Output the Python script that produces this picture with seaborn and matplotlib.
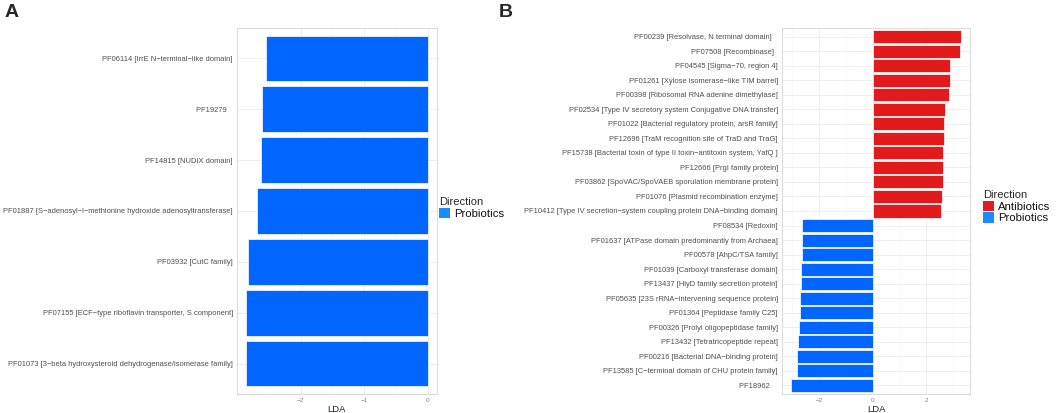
import matplotlib
matplotlib.use("Agg")
import matplotlib.pyplot as plt
from matplotlib.patches import Patch
import seaborn as sns
import pandas as pd

# panel A: probiotics only
a_names = [
    "PF06114 [IrrE N−terminal−like domain]",
    "PF19279   ",
    "PF14815 [NUDIX domain]",
    "PF01887 [S−adenosyl−l−methionine hydroxide adenosyltransferase]",
    "PF03932 [CutC family]",
    "PF07155 [ECF−type riboflavin transporter, S component]",
    "PF01073 [3−beta hydroxysteroid dehydrogenase/isomerase family]",
]
a_lda = [-2.54, -2.60, -2.62, -2.68, -2.82, -2.86, -2.86]
a_dir = ["Probiotics"] * 7

# panel B: antibiotics vs probiotics
b_names = [
    "PF00239 [Resolvase, N terminal domain]   ",
    "PF07508 [Recombinase]  ",
    "PF04545 [Sigma−70, region 4]",
    "PF01261 [Xylose isomerase−like TIM barrel]",
    "PF00398 [Ribosomal RNA adenine dimethylase]",
    "PF02534 [Type IV secretory system Conjugative DNA transfer]",
    "PF01022 [Bacterial regulatory protein, arsR family]",
    "PF12696 [TraM recognition site of TraD and TraG]",
    "PF15738 [Bacterial toxin of type II toxin−antitoxin system, YafQ ]",
    "PF12666 [PrgI family protein]",
    "PF03862 [SpoVAC/SpoVAEB sporulation membrane protein]",
    "PF01076 [Plasmid recombination enzyme]",
    "PF10412 [Type IV secretion−system coupling protein DNA−binding domain]",
    "PF08534 [Redoxin]",
    "PF01637 [ATPase domain predominantly from Archaea]",
    "PF00578 [AhpC/TSA family]",
    "PF01039 [Carboxyl transferase domain]",
    "PF13437 [HlyD family secretion protein]",
    "PF05635 [23S rRNA−intervening sequence protein]",
    "PF01364 [Peptidase family C25]",
    "PF00326 [Prolyl oligopeptidase family]",
    "PF13432 [Tetratricopeptide repeat]",
    "PF00216 [Bacterial DNA−binding protein]",
    "PF13585 [C−terminal domain of CHU protein family]",
    "PF18962    ",
]
b_lda = [3.30, 3.24, 2.87, 2.87, 2.85, 2.68, 2.67, 2.64, 2.63, 2.60, 2.60, 2.57, 2.53,
         -2.62, -2.63, -2.64, -2.65, -2.67, -2.69, -2.69, -2.75, -2.77, -2.80, -2.82, -3.05]
b_dir = ["Antibiotics"] * 13 + ["Probiotics"] * 12

bar_colors = {"Antibiotics": "#E31A1C", "Probiotics": "#0066FF"}
key_colors = {"Antibiotics": "#E41A1C", "Probiotics": "#1A8CFF"}

sns.set_style("white")
plt.rcParams["font.family"] = ["Liberation Sans", "DejaVu Sans"]

W, H = 1059, 413
fig = plt.figure(figsize=(W / 100, H / 100), dpi=100)


def px_axes(left, right, top, bottom):
    return fig.add_axes([left / W, 1 - bottom / H, (right - left) / W, (bottom - top) / H])


def draw_panel(ax, names, lda, direction, xlim, major, minor):
    df = pd.DataFrame({"name": names, "LDA": lda, "Direction": direction})
    sns.barplot(data=df, x="LDA", y="name", hue="Direction", order=names,
                palette=bar_colors, dodge=False, width=0.9, legend=False,
                saturation=1, edgecolor="white", linewidth=0.5, ax=ax)
    n = len(names)
    ax.set_ylim(n - 0.4, -0.6)
    ax.set_xlim(*xlim)
    ax.set_xticks(major)
    ax.set_xticks(minor, minor=True)
    ax.grid(True, which="major", color="#EBEBEB", linewidth=0.6)
    ax.grid(True, which="minor", axis="x", color="#F3F3F3", linewidth=0.4)
    ax.set_axisbelow(True)
    for s in ax.spines.values():
        s.set_color("#DCDCDC")
        s.set_linewidth(0.8)
    ax.tick_params(axis="y", length=0, pad=3, labelsize=5.4, labelcolor="#4D4D4D")
    ax.tick_params(axis="x", which="both", length=0, pad=3, labelsize=4.6, labelcolor="#7F7F7F")
    ax.set_ylabel("")
    ax.set_xlabel("LDA", fontsize=6.8, color="#222222", labelpad=1)


axA = px_axes(237, 437, 28, 394)
draw_panel(axA, a_names, a_lda, a_dir, (-3.0, 0.143), [-2, -1, 0], [-2.5, -1.5, -0.5])

axB = px_axes(782, 970, 28, 394)
draw_panel(axB, b_names, b_lda, b_dir, (-3.37, 3.62), [-2, 0, 2], [-3, -1, 1, 3])


def add_legend(labels, x, y):
    handles = [Patch(facecolor=key_colors[l], edgecolor="none") for l in labels]
    leg = fig.legend(handles, labels, title="Direction", loc="upper left",
                     bbox_to_anchor=(x / W, 1 - y / H), frameon=False,
                     fontsize=8.2, title_fontsize=8.0, handlelength=1.0,
                     handleheight=1.05, handletextpad=0.3, labelspacing=0.05,
                     borderpad=0, borderaxespad=0, alignment="left")
    for t in leg.get_texts():
        t.set_color("#111111")


add_legend(["Probiotics"], 439, 197)
add_legend(["Antibiotics", "Probiotics"], 983, 190)

fig.text(5 / W, 1 - 4 / H, "A", fontsize=14, fontweight="bold", va="top", ha="left")
fig.text(499 / W, 1 - 4 / H, "B", fontsize=14, fontweight="bold", va="top", ha="left")

fig.savefig("out.png", dpi=100)
